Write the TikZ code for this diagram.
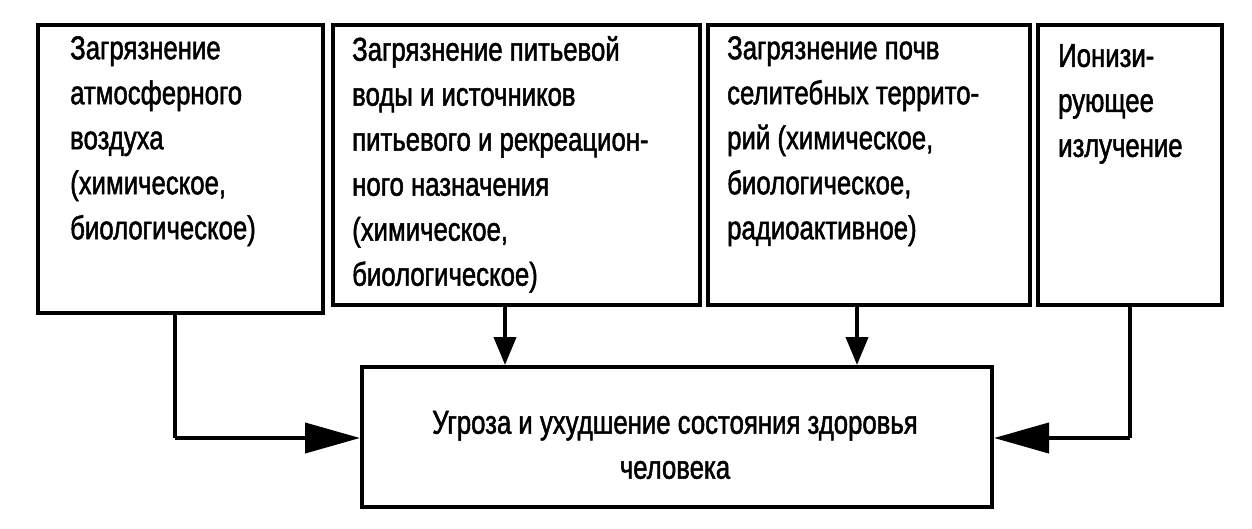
\documentclass[tikz,border=0pt]{standalone}
\usepackage{fontspec}
\setmainfont{Liberation Sans}[FakeStretch=0.78,FakeBold=1.5]
\usetikzlibrary{arrows.meta}
\begin{document}
\begin{tikzpicture}[x=1pt,y=-1pt,
  box/.style={draw,line width=4pt},
  txt/.style={anchor=north west,align=left,font=\fontsize{33}{45}\selectfont,inner sep=0pt},
  arr/.style={line width=4pt,-{Triangle[length=28pt,width=22pt]}},
  harr/.style={line width=4pt,-{Triangle[length=55pt,width=30pt]}}]
\useasboundingbox (0,0) rectangle (1252,528);
\draw[box] (38,25) rectangle (323,313);
\draw[box] (333,25) rectangle (700,305);
\draw[box] (708,25) rectangle (1030,305);
\draw[box] (1038,25) rectangle (1222,305);
\node[box,minimum width=630pt,minimum height=140pt,anchor=north west] (t) at (360,365) {};
\node[txt] (a) at (70,36) {Загрязнение\\атмосферного\\воздуха\\(химическое,\\биологическое)};
\node[txt] (b) at (352,36) {Загрязнение питьевой\\воды и источников\\питьевого и рекреацион-\\ного назначения\\(химическое,\\биологическое)};
\node[txt] (c) at (727,36) {Загрязнение почв\\селитебных террито-\\рий (химическое,\\биологическое,\\радиоактивное)};
\node[txt] (d) at (1058,44) {Ионизи-\\рующее\\излучение};
\node[align=center,font=\fontsize{33}{45}\selectfont] (tt) at (675,445) {Угроза и ухудшение состояния здоровья\\человека};
\coordinate (p1) at (175,313); \coordinate (q1) at (175,438);
\draw[line width=4pt] (p1) -- (q1);
\draw[harr] (q1) -- (t.west |- q1);
\coordinate (p2) at (505,305); \draw[arr] (p2) -- (p2 |- t.north);
\coordinate (p3) at (857,305); \draw[arr] (p3) -- (p3 |- t.north);
\coordinate (p4) at (1130,305); \coordinate (q4) at (1130,438);
\draw[line width=4pt] (p4) -- (q4);
\draw[harr] (q4) -- (t.east |- q4);
\end{tikzpicture}
\end{document}
